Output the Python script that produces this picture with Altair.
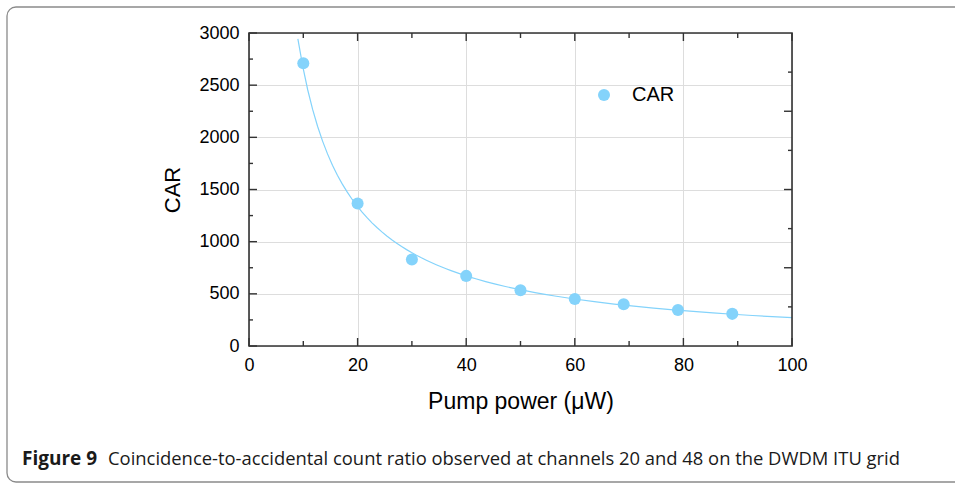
import altair as alt
import pandas as pd

# Measured coincidence-to-accidental ratio vs. pump power
pump_power = [10, 20, 30, 40, 50, 60, 69, 79, 89]
car_values = [2710, 1365, 830, 672, 535, 450, 400, 345, 308]
series_name = ["CAR"] * len(pump_power)

# Axis tick positions (data units)
x_major = [0, 20, 40, 60, 80, 100]
x_minor = [10, 30, 50, 70, 90]
y_major = [0, 500, 1000, 1500, 2000, 2500, 3000]
y_minor = [250, 750, 1250, 1750, 2250, 2750]
right_major = [750, 1500, 2250]
right_minor = [375, 1125, 1875, 2625]

caption_label = ["Figure 9"]
caption_text = ["Coincidence-to-accidental count ratio observed at channels 20 and 48 on the DWDM ITU grid"]

W, H = 543, 313
PAD = {"left": 249, "top": 33, "right": 163, "bottom": 138}
BLUE = "#84d3fb"
AXC = "#333333"
FONT = "Liberation Sans"
CAP_FONT = "Open Sans"

df = pd.DataFrame({"power": pump_power, "car": car_values, "series": series_name})

xs = alt.Scale(domain=[0, 100], nice=False, zero=False)
ys = alt.Scale(domain=[0, 3000], nice=False)

x_axis = alt.Axis(
    values=x_major, grid=True, ticks=False, domain=False, format="d",
    labelFlush=False, labelOverlap=False,
    labelFont=FONT, labelFontSize=18, labelColor="black", labelPadding=10,
    title="Pump power (μW)", titleFont=FONT, titleFontSize=23,
    titleFontWeight="normal", titleColor="black", titlePadding=16,
)
y_axis = alt.Axis(
    values=y_major, grid=True, ticks=False, domain=False, format="d",
    labelFlush=False, labelOverlap=False,
    labelFont=FONT, labelFontSize=18, labelColor="black", labelPadding=10,
    title="CAR", titleFont=FONT, titleFontSize=22,
    titleFontWeight="normal", titleColor="black", titlePadding=14,
)

X = alt.X("power:Q", scale=xs, axis=x_axis)
Y = alt.Y("car:Q", scale=ys, axis=y_axis)

points = alt.Chart(df).mark_circle(size=145, opacity=1).encode(
    x=X,
    y=Y,
    color=alt.Color(
        "series:N",
        scale=alt.Scale(range=[BLUE]),
        legend=alt.Legend(
            title=None, orient="none", legendX=345, legendY=52,
            symbolType="circle", symbolSize=145, symbolStrokeWidth=0,
            symbolOpacity=1, labelFont=FONT, labelFontSize=20,
            labelColor="black", labelOffset=18,
        ),
    ),
)

# Power-law fit through the measured points
fit = alt.Chart(df).transform_regression(
    "power", "car", method="pow", extent=[9, 100]
).mark_line(color=BLUE, strokeWidth=1.2, clip=True).encode(x=X, y=Y)


def ticks_x(values, y0, y1):
    return alt.Chart(pd.DataFrame({"power": values})).mark_rule(
        color=AXC, strokeWidth=1.4
    ).encode(x=X, y=alt.value(y0), y2=alt.value(y1))


def ticks_y(values, x0, x1):
    return alt.Chart(pd.DataFrame({"car": values})).mark_rule(
        color=AXC, strokeWidth=1.4
    ).encode(y=Y, x=alt.value(x0), x2=alt.value(x1))


tick_layers = [
    ticks_x(x_major, H, H - 8), ticks_x(x_minor, H, H - 5),
    ticks_x(x_major, 0, 8), ticks_x(x_minor, 0, 5),
    ticks_y(y_major, 0, 8), ticks_y(y_minor, 0, 4),
    ticks_y(right_major, W, W - 8), ticks_y(right_minor, W, W - 4),
]

one_row = pd.DataFrame({"k": [0]})

# Frame around the plot area
plot_frame = alt.Chart(one_row).mark_rect(
    filled=False, stroke=AXC, strokeWidth=1.6
).encode(x=alt.value(0), x2=alt.value(W), y=alt.value(0), y2=alt.value(H))

# Rounded border around the whole figure
outer_frame = alt.Chart(one_row).mark_rect(
    filled=False, stroke="#8a8a8a", strokeWidth=1.3, cornerRadius=9
).encode(
    x=alt.value(7 - PAD["left"]), x2=alt.value(980 - PAD["left"]),
    y=alt.value(7 - PAD["top"]), y2=alt.value(482 - PAD["top"]),
)

cap_bold = alt.Chart(pd.DataFrame({"t": caption_label})).mark_text(
    align="left", baseline="alphabetic", font=CAP_FONT, fontSize=19,
    fontWeight="bold", color="#1a1a1a",
).encode(text="t:N", x=alt.value(22 - PAD["left"]), y=alt.value(465 - PAD["top"]))

cap_body = alt.Chart(pd.DataFrame({"t": caption_text})).mark_text(
    align="left", baseline="alphabetic", font=CAP_FONT, fontSize=18.4,
    fontWeight="normal", color="#1a1a1a",
).encode(text="t:N", x=alt.value(108 - PAD["left"]), y=alt.value(465 - PAD["top"]))

chart = alt.layer(
    outer_frame, fit, points, *tick_layers, plot_frame, cap_bold, cap_body
).properties(
    width=W, height=H, padding=PAD,
    autosize=alt.AutoSizeParams(type="none"),
).configure_view(
    strokeWidth=0
).configure_axis(
    gridColor="#e8e8e8", gridWidth=1
).configure(background="white")

chart.save("out.html", embed_options={"renderer": "svg", "actions": False})
